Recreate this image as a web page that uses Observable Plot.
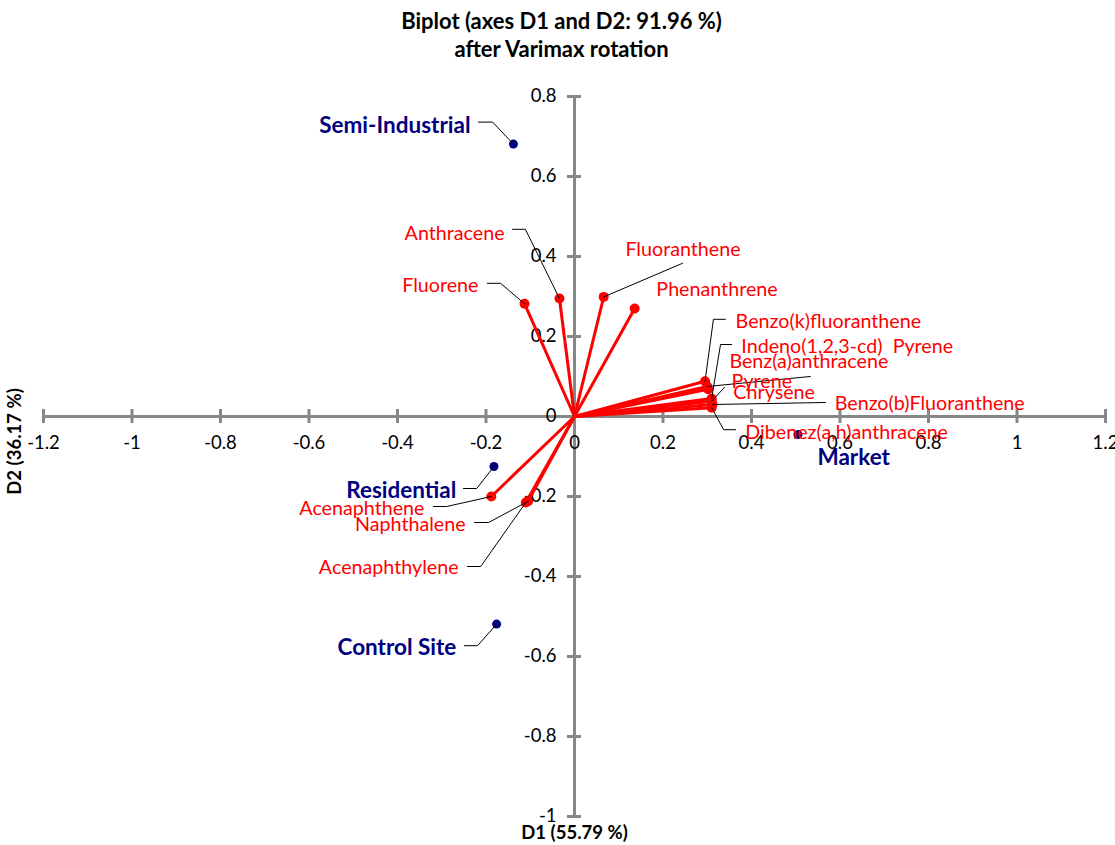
<!DOCTYPE html>
<html>
<head>
<meta charset="utf-8">
<script src="https://cdn.jsdelivr.net/npm/d3@7"></script>
<script src="https://cdn.jsdelivr.net/npm/@observablehq/plot@0.6"></script>
<style>
  body { margin: 0; background: #fff; overflow: hidden; font-family: Lato, "Open Sans", sans-serif; }
  #title { height: 66px; box-sizing: border-box; padding: 7px 0 0 8px; text-align: center;
           font-weight: bold; font-size: 22px; line-height: 28px; color: #000; }
</style>
</head>
<body>
<div id="title">Biplot (axes D1 and D2: 91.96 %)<br>after Varimax rotation</div>
<div id="chart"></div>
<script>
// PAH variables (loadings on D1 / D2)
const variables = ["Naphthalene", "Acenaphthylene", "Acenaphthene", "Fluorene", "Phenanthrene",
  "Anthracene", "Fluoranthene", "Pyrene", "Benz(a)anthracene", "Chrysene",
  "Benzo(b)Fluoranthene", "Benzo(k)fluoranthene", "Indeno(1,2,3-cd)  Pyrene", "Dibenez(a,h)anthracene"];
const varD1 = [-0.105, -0.110, -0.188, -0.113, 0.136, -0.034, 0.066, 0.302, 0.300, 0.310, 0.312, 0.295, 0.310, 0.310];
const varD2 = [-0.212, -0.215, -0.200, 0.282, 0.270, 0.295, 0.299, 0.068, 0.075, 0.038, 0.030, 0.088, 0.045, 0.022];

// Sampling sites (scores on D1 / D2)
const sites = ["Semi-Industrial", "Residential", "Control Site", "Market"];
const siteD1 = [-0.138, -0.182, -0.176, 0.505];
const siteD2 = [0.681, -0.125, -0.519, -0.045];

// Axis ticks
const xTicks = [-1.2, -1, -0.8, -0.6, -0.4, -0.2, 0, 0.2, 0.4, 0.6, 0.8, 1, 1.2];
const yTicks = [-1, -0.8, -0.6, -0.4, -0.2, 0, 0.2, 0.4, 0.6, 0.8];
const xTitle = "D1 (55.79 %)";
const yTitle = "D2 (36.17 %)";

// Label placement: [name, labelX, labelY, anchor, leaderStart, leaderElbow]
const labelLayout = [
  ["Semi-Industrial", -0.235, 0.728, "end", [-0.217, 0.736], [-0.185, 0.736]],
  ["Residential", -0.267, -0.185, "end", [-0.251, -0.180], [-0.221, -0.180]],
  ["Control Site", -0.267, -0.578, "end", [-0.249, -0.573], [-0.219, -0.573]],
  ["Market", 0.549, -0.103, "start", null, null],
  ["Anthracene", -0.158, 0.458, "end", [-0.140, 0.468], [-0.111, 0.468]],
  ["Fluorene", -0.217, 0.328, "end", [-0.197, 0.333], [-0.167, 0.333]],
  ["Fluoranthene", 0.115, 0.418, "start", [0.244, 0.383], null],
  ["Phenanthrene", 0.185, 0.318, "start", null, null],
  ["Benzo(k)fluoranthene", 0.364, 0.238, "start", [0.341, 0.243], [0.314, 0.243]],
  ["Indeno(1,2,3-cd)  Pyrene", 0.377, 0.175, "start", [0.355, 0.180], [0.330, 0.180]],
  ["Benz(a)anthracene", 0.350, 0.138, "start", [0.533, 0.100], null],
  ["Pyrene", 0.355, 0.088, "start", null, null],
  ["Chrysene", 0.359, 0.060, "start", [0.339, 0.073], null],
  ["Benzo(b)Fluoranthene", 0.588, 0.033, "start", [0.567, 0.035], null],
  ["Dibenez(a,h)anthracene", 0.386, -0.040, "start", [0.364, -0.033], [0.337, -0.033]],
  ["Acenaphthene", -0.339, -0.230, "end", [-0.319, -0.225], [-0.289, -0.225]],
  ["Naphthalene", -0.246, -0.270, "end", [-0.226, -0.265], [-0.194, -0.265]],
  ["Acenaphthylene", -0.262, -0.378, "end", [-0.242, -0.375], [-0.212, -0.375]]
];

const varRows = variables.map((name, i) => ({name, d1: varD1[i], d2: varD2[i], kind: "var"}));
const siteRows = sites.map((name, i) => ({name, d1: siteD1[i], d2: siteD2[i], kind: "site"}));
const pointOf = new Map([...varRows, ...siteRows].map(d => [d.name, d]));

const labels = labelLayout.map(([name, lx, ly, anchor]) => ({name, lx, ly, anchor, kind: pointOf.get(name).kind}));
const leaders = labelLayout.filter(r => r[4]).flatMap(([name, , , , start, elbow]) => {
  const p = pointOf.get(name);
  const pts = [start];
  if (elbow) pts.push(elbow);
  pts.push([p.d1, p.d2]);
  return pts.map(([x, y]) => ({name, x, y}));
});

const fmt = d => String(+d.toFixed(1));
const axisGrey = "#878787";
const navy = "#000080";
const red = "#ff0000";
const tickY = 0.0175, tickX = 0.0158;

const chart = Plot.plot({
  width: 1115,
  height: 779,
  marginLeft: 43,
  marginRight: 10,
  marginTop: 30,
  marginBottom: 29,
  style: {fontFamily: "Lato, 'Open Sans', sans-serif", background: "#fff", overflow: "visible"},
  x: {domain: [-1.2, 1.2], axis: null},
  y: {domain: [-1, 0.8], axis: null},
  marks: [
    // axes through the origin
    Plot.ruleY([0], {x1: -1.2, x2: 1.2, stroke: axisGrey, strokeWidth: 3}),
    Plot.ruleX([0], {y1: -1, y2: 0.8, stroke: axisGrey, strokeWidth: 3}),
    Plot.ruleX(xTicks, {x: d => d, y1: -tickY, y2: tickY, stroke: axisGrey, strokeWidth: 3}),
    Plot.ruleY(yTicks, {y: d => d, x1: -tickX, x2: tickX, stroke: axisGrey, strokeWidth: 3}),
    Plot.text(xTicks, {x: d => d, y: 0, dy: 27, text: fmt, fontSize: 18.5, fill: "#000"}),
    Plot.text(yTicks, {x: 0, y: d => d, dx: -18, textAnchor: "end", text: fmt, fontSize: 18.5, fill: "#000"}),
    // axis titles
    Plot.text([xTitle], {frameAnchor: "bottom", dy: 17, lineAnchor: "middle", textAnchor: "middle",
      text: d => d, fontSize: 18.5, fontWeight: "bold", fill: "#000"}),
    Plot.text([yTitle], {frameAnchor: "left", dx: -28, dy: -15, rotate: -90, textAnchor: "middle", lineAnchor: "middle",
      text: d => d, fontSize: 18.5, fontWeight: "bold", fill: "#000"}),
    // loading vectors
    Plot.link(varRows, {x1: 0, y1: 0, x2: "d1", y2: "d2", stroke: red, strokeWidth: 3}),
    Plot.dot(varRows, {x: "d1", y: "d2", r: 5, fill: red, stroke: null}),
    Plot.dot(siteRows, {x: "d1", y: "d2", r: 4.5, fill: navy, stroke: null}),
    // leader lines and labels
    Plot.line(leaders, {x: "x", y: "y", z: "name", stroke: "#000", strokeWidth: 1}),
    Plot.text(labels.filter(d => d.kind === "var" && d.anchor === "start"),
      {x: "lx", y: "ly", text: "name", textAnchor: "start", fontSize: 19.7, fill: red}),
    Plot.text(labels.filter(d => d.kind === "var" && d.anchor === "end"),
      {x: "lx", y: "ly", text: "name", textAnchor: "end", fontSize: 19.7, fill: red}),
    Plot.text(labels.filter(d => d.kind === "site" && d.anchor === "start"),
      {x: "lx", y: "ly", text: "name", textAnchor: "start", fontSize: 22.5, fontWeight: "bold", fill: navy}),
    Plot.text(labels.filter(d => d.kind === "site" && d.anchor === "end"),
      {x: "lx", y: "ly", text: "name", textAnchor: "end", fontSize: 22.5, fontWeight: "bold", fill: navy})
  ]
});
document.getElementById("chart").appendChild(chart);
</script>
</body>
</html>
